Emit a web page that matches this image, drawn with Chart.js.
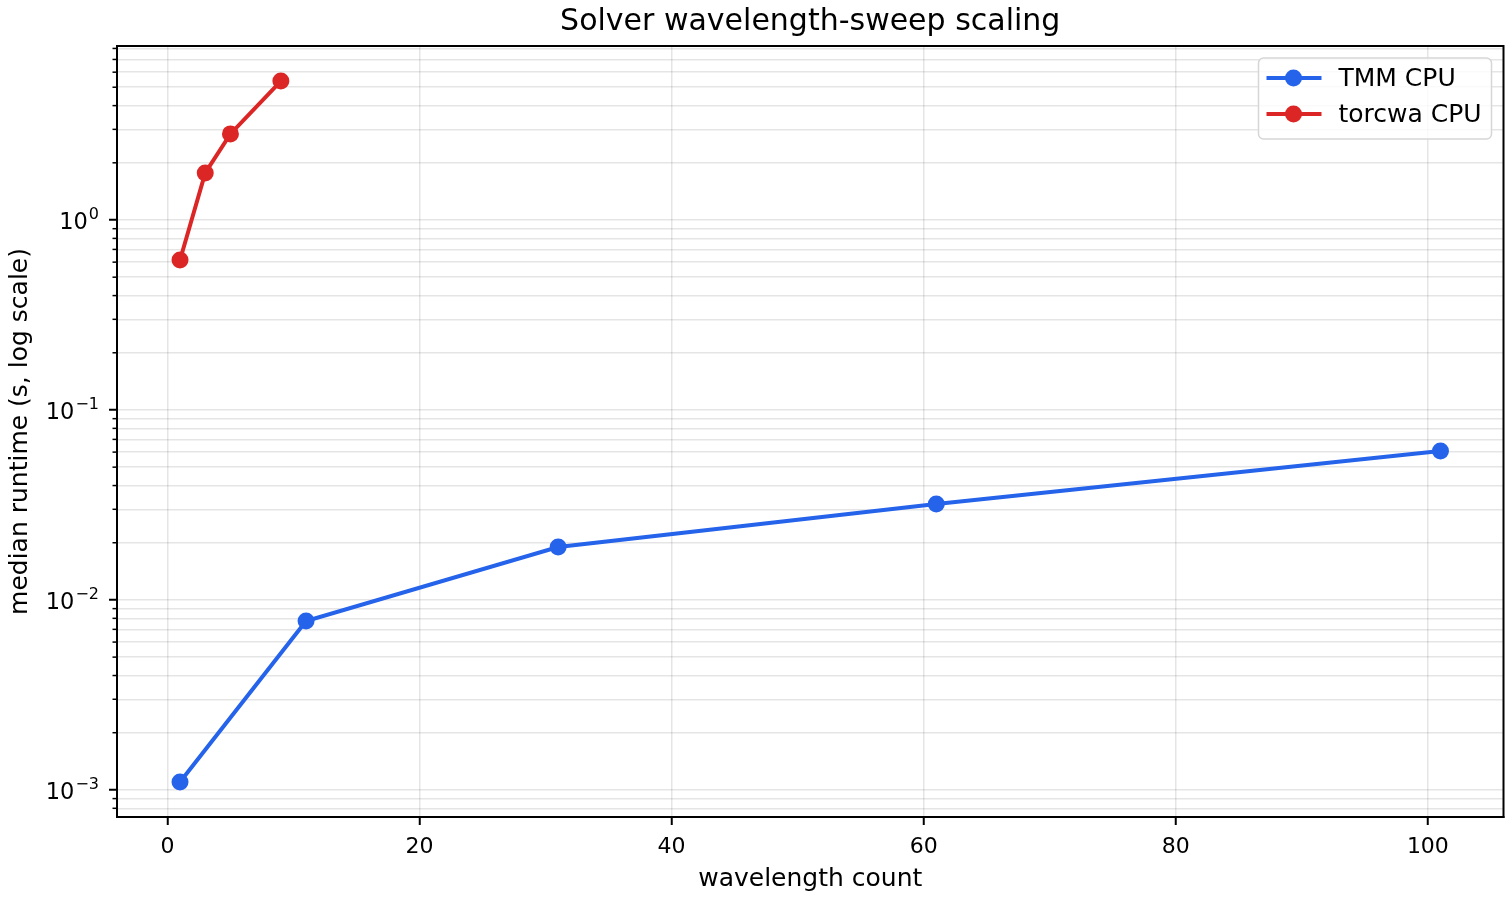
<!DOCTYPE html>
<html>
<head>
<meta charset="utf-8">
<script src="https://cdn.jsdelivr.net/npm/chart.js@4.4.1/dist/chart.umd.min.js"></script>
<style>
  html, body { margin: 0; padding: 0; background: #fff; }
  #wrap { width: 1512px; height: 900px; }
</style>
</head>
<body>
<div id="wrap"><canvas id="sweep-chart" width="1512" height="900"></canvas></div>
<script>
// Solver wavelength-sweep scaling (log y)

const tmmCounts = [1, 11, 31, 61, 101];
const tmmRuntime = [0.0011, 0.00775, 0.019, 0.032, 0.0608];

const torcwaCounts = [1, 3, 5, 9];
const torcwaRuntime = [0.616, 1.77, 2.84, 5.39];

const xTickValues = [0, 20, 40, 60, 80, 100];
const yDecades = [-3, -2, -1, 0];
const yDecadeExponents = ["\u22123", "\u22122", "\u22121", "0"];

const BLUE = "#2563eb";
const RED = "#dc2626";
const GRID = "rgba(0,0,0,0.1)";
const FONT = "'DejaVu Sans', sans-serif";

Chart.defaults.font.family = FONT;
Chart.defaults.color = "#000";

function toPoints(xs, ys) {
  return xs.map((x, i) => ({ x: x, y: ys[i] }));
}

// frame, minor y ticks, 10^n labels and a matplotlib style legend inside the axes
const axesDecor = {
  id: "axesDecor",
  afterDraw(chart) {
    const ctx = chart.ctx;
    const a = chart.chartArea;
    const y = chart.scales.y;
    ctx.save();

    ctx.strokeStyle = "#000";
    ctx.lineWidth = 1.5;
    y.ticks.forEach(t => {
      if (t.major) return;
      const py = y.getPixelForValue(t.value);
      ctx.beginPath();
      ctx.moveTo(a.left, py);
      ctx.lineTo(a.left - 4.5, py);
      ctx.stroke();
    });

    // decade labels with superscript exponents
    ctx.fillStyle = "#000";
    ctx.textAlign = "right";
    ctx.textBaseline = "alphabetic";
    yDecades.forEach((e, i) => {
      const py = y.getPixelForValue(Math.pow(10, e));
      const right = a.left - 18;
      ctx.font = "16px " + FONT;
      const sw = ctx.measureText(yDecadeExponents[i]).width;
      ctx.fillText(yDecadeExponents[i], right, py - 1);
      ctx.font = "22.5px " + FONT;
      ctx.fillText("10", right - sw - 1, py + 9.3);
    });

    ctx.lineWidth = 2;
    ctx.strokeRect(a.left, a.top, a.right - a.left, a.bottom - a.top);

    // legend
    const bx = a.right - 245, by = a.top + 12, bw = 233, bh = 81;
    ctx.beginPath();
    ctx.roundRect(bx, by, bw, bh, 5);
    ctx.fillStyle = "rgba(255,255,255,0.8)";
    ctx.fill();
    ctx.strokeStyle = "#d6d6d6";
    ctx.lineWidth = 1.5;
    ctx.stroke();

    ctx.font = "25px " + FONT;
    ctx.textAlign = "left";
    ctx.textBaseline = "middle";
    chart.data.datasets.forEach((ds, i) => {
      const ry = by + 20 + i * 36;
      ctx.strokeStyle = ds.borderColor;
      ctx.lineWidth = 4;
      ctx.beginPath();
      ctx.moveTo(bx + 8, ry);
      ctx.lineTo(bx + 63, ry);
      ctx.stroke();
      ctx.fillStyle = ds.borderColor;
      ctx.beginPath();
      ctx.arc(bx + 35, ry, 8.5, 0, Math.PI * 2);
      ctx.fill();
      ctx.fillStyle = "#000";
      ctx.fillText(ds.label, bx + 80, ry + 1);
    });
    ctx.restore();
  }
};

new Chart(document.getElementById("sweep-chart"), {
  type: "line",
  data: {
    datasets: [
      {
        label: "TMM CPU",
        data: toPoints(tmmCounts, tmmRuntime),
        borderColor: BLUE,
        backgroundColor: BLUE,
        borderWidth: 4,
        pointRadius: 8.5,
        pointHoverRadius: 8.5,
        pointBorderWidth: 0,
        tension: 0
      },
      {
        label: "torcwa CPU",
        data: toPoints(torcwaCounts, torcwaRuntime),
        borderColor: RED,
        backgroundColor: RED,
        borderWidth: 4,
        pointRadius: 8.5,
        pointHoverRadius: 8.5,
        pointBorderWidth: 0,
        tension: 0
      }
    ]
  },
  options: {
    responsive: false,
    devicePixelRatio: 1,
    animation: false,
    layout: { padding: { left: 0, right: 8, top: 0, bottom: 0 } },
    plugins: {
      legend: { display: false },
      tooltip: { enabled: false },
      title: {
        display: true,
        fullSize: false,
        text: "Solver wavelength-sweep scaling",
        color: "#000",
        font: { size: 30, weight: "normal" },
        padding: { top: 4, bottom: 6 }
      }
    },
    scales: {
      x: {
        type: "linear",
        min: -4,
        max: 106,
        afterBuildTicks: s => { s.ticks = xTickValues.map(v => ({ value: v })); },
        afterFit: s => { s.height = 83; },
        ticks: { font: { size: 22 }, padding: 9, autoSkip: false, maxRotation: 0 },
        grid: { color: GRID, lineWidth: 1.5, tickColor: "#000", tickWidth: 2, tickLength: 8 },
        border: { color: "#000", width: 2 },
        title: {
          display: true,
          text: "wavelength count",
          font: { size: 25 },
          padding: { top: 0, bottom: 6 }
        }
      },
      y: {
        type: "logarithmic",
        min: 7.2e-4,
        max: 8.24,
        afterBuildTicks: s => {
          const ticks = [];
          for (let e = -4; e <= 1; e++) {
            for (let m = 1; m <= 9; m++) {
              const v = m * Math.pow(10, e);
              if (v >= s.min && v <= s.max) ticks.push({ value: v, major: m === 1 });
            }
          }
          s.ticks = ticks;
        },
        afterFit: s => { s.width = 117; },
        ticks: { display: false, autoSkip: false },
        grid: {
          color: GRID,
          lineWidth: 1.5,
          tickLength: 8,
          tickWidth: 2,
          tickColor: c => (c.tick && c.tick.major ? "#000" : "rgba(0,0,0,0)")
        },
        border: { color: "#000", width: 2 },
        title: {
          display: true,
          text: "median runtime (s, log scale)",
          font: { size: 25 },
          padding: { top: 5, bottom: 0 }
        }
      }
    }
  },
  plugins: [axesDecor]
});
</script>
</body>
</html>
